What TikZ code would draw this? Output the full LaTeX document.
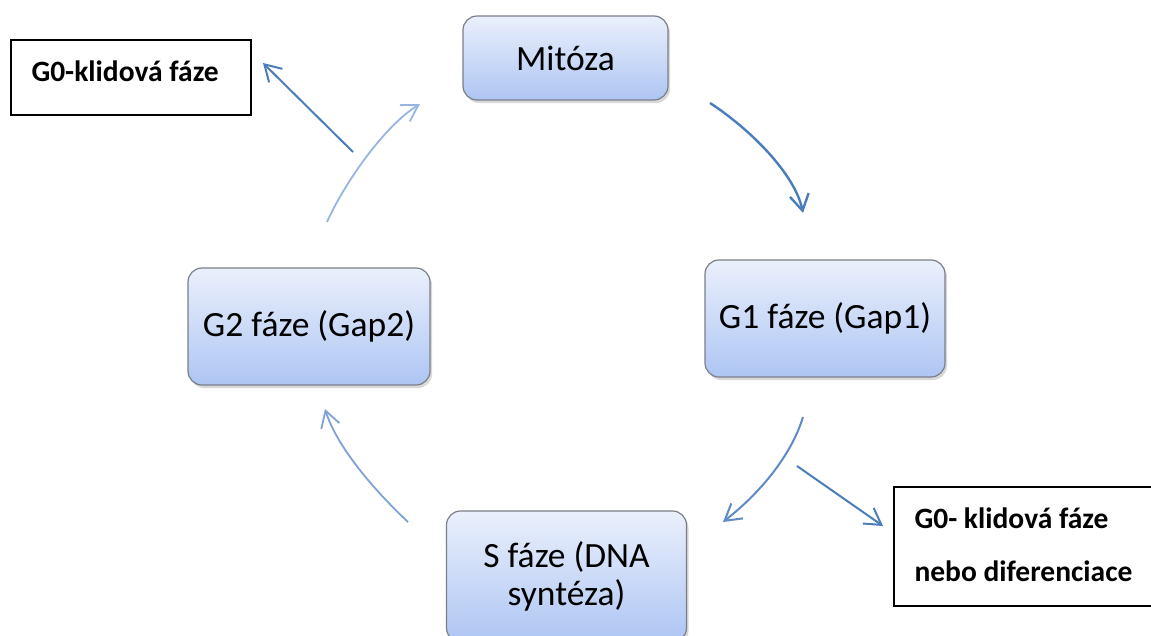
\documentclass[tikz,border=0pt]{standalone}
\usepackage{fontspec}
\setmainfont{Carlito}
\usetikzlibrary{arrows.meta,shadows,calc}
\definecolor{boxtop}{HTML}{EAF0FC}
\definecolor{boxbot}{HTML}{AEC5F3}
\definecolor{boxedge}{HTML}{7A7F88}
\definecolor{arrdark}{HTML}{4A7EBB}
\definecolor{arrmid}{HTML}{5C8BC8}
\definecolor{arrlight}{HTML}{7FA1D6}
\definecolor{arrpale}{HTML}{97B4E2}
\tikzset{
  phase/.style={rectangle, rounded corners=14pt, draw=boxedge, line width=1.2pt,
    top color=boxtop, bottom color=boxbot,
    drop shadow={shadow xshift=2pt, shadow yshift=-3pt, opacity=0.25, fill=black!60},
    font=\fontsize{35.5}{38}\selectfont, align=center, inner sep=0pt},
  restbox/.style={rectangle, draw=black, line width=1.4pt, fill=white, inner sep=0pt},
  resttext/.style={anchor=west, inner sep=0pt, font=\fontsize{29.5}{30}\bfseries\selectfont},
  cyc/.style={line width=#1, -{Straight Barb[length=16pt, width=19pt]}},
  cyc/.default=1.8pt
}
\begin{document}
\begin{tikzpicture}[x=1pt,y=-1pt]
\useasboundingbox (0,0) rectangle (1151,635);

% phase boxes
\node[phase, minimum width=205pt, minimum height=84pt] (mit) at (565.5,58) {Mitóza};
\node[phase, minimum width=240pt, minimum height=117pt] (g1) at (825,318.5) {G1 fáze (Gap1)};
\node[phase, minimum width=242pt, minimum height=117pt] (g2) at (309,326.5) {G2 fáze (Gap2)};
\node[phase, minimum width=240pt, minimum height=131pt] (s) at (566.5,576.5) {S fáze (DNA\\syntéza)};

% resting-phase boxes
\node[restbox, minimum width=240pt, minimum height=75pt] (g0a) at (131,77.5) {};
\node[resttext] (g0atext) at ($(g0a.north west)+(21,32)$) {G0-klidová fáze};
\node[restbox, minimum width=261pt, minimum height=119pt] (g0b) at (1024.5,546.5) {};
\node[resttext] (g0btext1) at ($(g0b.north west)+(21,32)$) {G0- klidová fáze};
\node[resttext] (g0btext2) at ($(g0b.north west)+(21,85)$) {nebo diferenciace};

% connector ends
\coordinate (a1s) at (710,103);
\coordinate (a1e) at (803,213);
\coordinate (a2s) at (803,417);
\coordinate (a2e) at (723,522);
\coordinate (a3s) at (408,522);
\coordinate (a3e) at (325,409);
\coordinate (a4s) at (327,222);
\coordinate (a4e) at (420,104);
\coordinate (b1s) at (353,152);
\coordinate (b1e) at (263,63);
\coordinate (b2s) at (797,466);
\coordinate (b2e) at (883,526);

% cycle arrows
\draw[cyc=2.4pt, draw=arrdark] (a1s) .. controls (750,129) and (795,174) .. (a1e);
\draw[cyc=2pt, draw=arrmid] (a2s) .. controls (791,456) and (760,493) .. (a2e);
\draw[cyc=1.8pt, draw=arrlight] (a3s) .. controls (374,490) and (337,447) .. (a3e);
\draw[cyc=1.8pt, draw=arrpale] (a4s) .. controls (344,184) and (384,126) .. (a4e);

% exits to G0
\draw[cyc=2pt, draw=arrdark] (b1s) -- (b1e);
\draw[cyc=2pt, draw=arrdark] (b2s) -- (b2e);
\end{tikzpicture}
\end{document}
